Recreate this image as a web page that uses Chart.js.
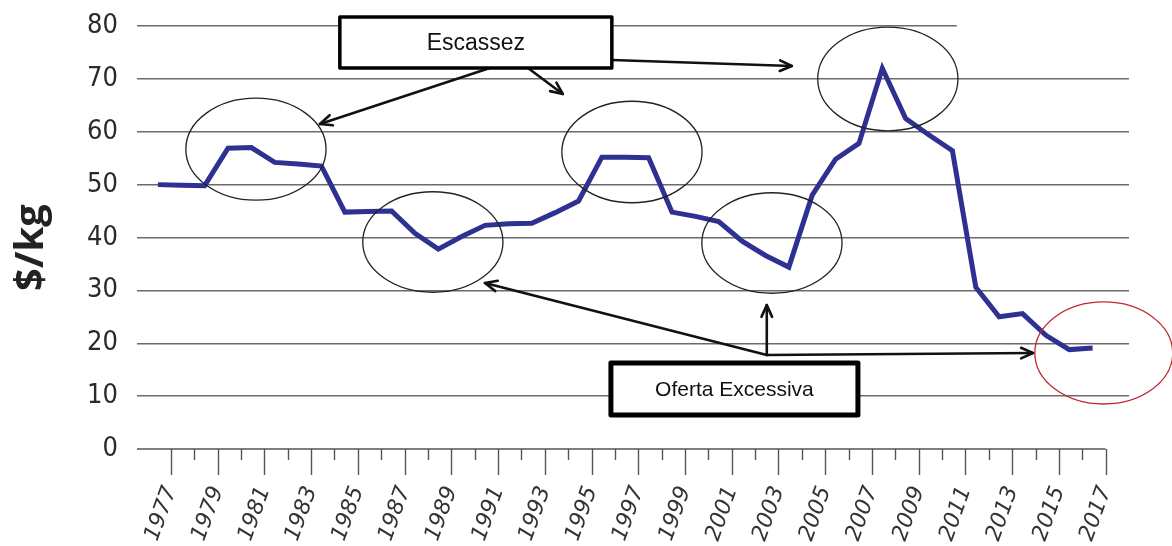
<!DOCTYPE html>
<html><head><meta charset="utf-8">
<script src="https://cdn.jsdelivr.net/npm/chart.js@4"></script>
<style>html,body{margin:0;padding:0;background:#fff;}</style>
</head><body>
<canvas id="c" width="1172" height="546"></canvas>
<script>
// ---- data ----
const years = [1977,1978,1979,1980,1981,1982,1983,1984,1985,1986,1987,1988,1989,1990,1991,1992,1993,1994,1995,1996,1997,1998,1999,2000,2001,2002,2003,2004,2005,2006,2007,2008,2009,2010,2011,2012,2013,2014,2015,2016,2017];
const prices = [50.0,49.9,49.8,56.9,57.0,54.2,53.9,53.5,44.8,44.9,45.0,40.8,37.8,40.2,42.3,42.6,42.7,44.7,46.9,55.2,55.2,55.1,44.8,44.0,43.0,39.3,36.6,34.4,48.0,54.8,57.8,72.0,62.5,59.4,56.4,30.6,25.0,25.6,21.5,18.8,19.1];
const tickYears = [1977,1978,1979,1980,1981,1982,1983,1984,1985,1986,1987,1988,1989,1990,1991,1992,1993,1994,1995,1996,1997,1998,1999,2000,2001,2002,2003,2004,2005,2006,2007,2008,2009,2010,2011,2012,2013,2014,2015,2016,2017];
const labelYears = [1977,1979,1981,1983,1985,1987,1989,1991,1993,1995,1997,1999,2001,2003,2005,2007,2009,2011,2013,2015,2017];
const yTicks = [0,10,20,30,40,50,60,70,80];
const yTitle = '$/kg';
// annotations in data units (x: year on the labelled axis, y: $/kg)
const ellipses = [
  {x:1980.64, y:56.7, rx:3.0, ry:9.65, color:'#222'},
  {x:1988.21, y:39.15, rx:3.0, ry:9.5, color:'#222'},
  {x:1996.73, y:56.17, rx:3.0, ry:9.6, color:'#222'},
  {x:2002.72, y:38.96, rx:3.0, ry:9.5, color:'#222'},
  {x:2007.68, y:69.98, rx:3.0, ry:9.8, color:'#222'},
  {x:2016.92, y:18.16, rx:2.95, ry:9.65, color:'#c0282f'}
];
const boxes = [
  {x0:1984.23, x1:1995.87, y0:81.7, y1:72.06, text:'Escassez', size:23, lw:3.5},
  {x0:1995.83, x1:2006.40, y0:16.26, y1:6.43, text:'Oferta Excessiva', size:21, lw:5}
];
const arrows = [
  {x0:1990.65, y0:72.06, x1:1983.38, y1:61.47},
  {x0:1992.28, y0:72.06, x1:1993.77, y1:67.14},
  {x0:1995.87, y0:73.57, x1:2003.57, y1:72.43},
  {x0:2002.50, y0:17.78, x1:1990.44, y1:31.39},
  {x0:2002.50, y0:17.78, x1:2002.50, y1:27.23},
  {x0:2002.50, y0:17.78, x1:2013.89, y1:18.16}
];
const topGridCutYear = 2010.63;
const titlePos = {year:1971.05, value:38.1};

const annot = {
  id:'annot',
  beforeDatasetsDraw(chart){
    const {ctx, scales:{x,y}, chartArea:ca} = chart;
    ctx.save();
    ctx.fillStyle = '#fff';
    const py = y.getPixelForValue(80);
    const cx = x.getPixelForValue(topGridCutYear);
    ctx.fillRect(cx, py-3, ca.right - cx + 4, 6);
    ctx.strokeStyle = '#555';
    ctx.lineWidth = 1.4;
    const y0 = y.getPixelForValue(0);
    ctx.beginPath();
    ctx.moveTo(ca.left, y0);
    ctx.lineTo(x.getPixelForValue(tickYears[tickYears.length-1]), y0);
    ctx.stroke();
    tickYears.forEach(yr=>{
      const px = Math.round(x.getPixelForValue(yr))+0.5;
      const len = labelYears.includes(yr) ? 26 : 11;
      ctx.beginPath(); ctx.moveTo(px, y0); ctx.lineTo(px, y0+len); ctx.stroke();
    });
    ctx.translate(x.getPixelForValue(titlePos.year), y.getPixelForValue(titlePos.value));
    ctx.rotate(-Math.PI/2);
    ctx.fillStyle = '#222';
    ctx.font = 'bold 40px "Open Sans", sans-serif';
    ctx.textAlign = 'center'; ctx.textBaseline = 'middle';
    ctx.fillText(yTitle, 0, 0);
    ctx.restore();
  },
  afterDatasetsDraw(chart){
    const {ctx, scales:{x,y}} = chart;
    ctx.save();
    ellipses.forEach(e=>{
      const cx = x.getPixelForValue(e.x), cy = y.getPixelForValue(e.y);
      const rx = x.getPixelForValue(e.x+e.rx)-cx, ry = cy - y.getPixelForValue(e.y+e.ry);
      ctx.beginPath(); ctx.ellipse(cx,cy,rx,ry,0,0,Math.PI*2);
      ctx.strokeStyle = e.color; ctx.lineWidth = 1.3; ctx.stroke();
    });
    ctx.strokeStyle = '#111'; ctx.lineWidth = 2.6; ctx.lineCap='round'; ctx.lineJoin='round';
    arrows.forEach(a=>{
      const X0=x.getPixelForValue(a.x0), Y0=y.getPixelForValue(a.y0);
      const X1=x.getPixelForValue(a.x1), Y1=y.getPixelForValue(a.y1);
      ctx.beginPath(); ctx.moveTo(X0,Y0); ctx.lineTo(X1,Y1); ctx.stroke();
      const ang = Math.atan2(Y1-Y0, X1-X0), L=13, w=0.42;
      ctx.beginPath();
      ctx.moveTo(X1-L*Math.cos(ang-w), Y1-L*Math.sin(ang-w));
      ctx.lineTo(X1,Y1);
      ctx.lineTo(X1-L*Math.cos(ang+w), Y1-L*Math.sin(ang+w));
      ctx.stroke();
    });
    boxes.forEach(b=>{
      const X0=x.getPixelForValue(b.x0), X1=x.getPixelForValue(b.x1);
      const Y0=y.getPixelForValue(b.y0), Y1=y.getPixelForValue(b.y1);
      ctx.fillStyle='#fff'; ctx.fillRect(X0,Y0,X1-X0,Y1-Y0);
      ctx.lineWidth=b.lw; ctx.strokeStyle='#000'; ctx.lineJoin='round';
      ctx.strokeRect(X0,Y0,X1-X0,Y1-Y0);
      ctx.fillStyle='#111'; ctx.font = b.size+'px "Liberation Sans", Arial, sans-serif';
      ctx.textAlign='center'; ctx.textBaseline='middle';
      ctx.fillText(b.text,(X0+X1)/2,(Y0+Y1)/2+1);
    });
    ctx.restore();
  }
};

new Chart(document.getElementById('c'), {
  type:'line',
  data:{datasets:[{
    data: years.map((yr,i)=>({x:yr, y:prices[i]})),
    xAxisID:'xd',
    borderColor:'rgb(46,49,146)', borderWidth:5, pointRadius:0, fill:false, tension:0
  }]},
  options:{
    responsive:false, animation:false,
    layout:{padding:{top:26,right:43,left:0,bottom:0}},
    plugins:{legend:{display:false}, tooltip:{enabled:false}},
    scales:{
      x:{type:'linear', position:'bottom', min:1975.55, max:2018.0,
        afterBuildTicks:(s)=>{ s.ticks = labelYears.map(v=>({value:v})); },
        afterFit:(s)=>{ s.height = 97; },
        grid:{display:false, drawTicks:false}, border:{display:false},
        ticks:{autoSkip:false, minRotation:70, maxRotation:70, padding:34, color:'#333',
          font:{family:'"DejaVu Sans"', style:'italic', size:22},
          callback:(v)=>String(v)}
      },
      xd:{type:'linear', position:'bottom', display:false, min:1976.106, max:2018.556},
      y:{min:0, max:80,
        afterBuildTicks:(s)=>{ s.ticks = yTicks.map(v=>({value:v})); },
        afterFit:(s)=>{ s.width = 137; },
        grid:{drawTicks:true, tickLength:17, tickColor:'rgba(0,0,0,0)', color:(c)=> c.tick && c.tick.value===0 ? 'rgba(0,0,0,0)' : '#6b6b6b', lineWidth:1.5},
        border:{display:false},
        ticks:{padding:2, color:'#2a2a2a', font:{family:'"Liberation Sans Narrow", "DejaVu Sans Condensed", sans-serif', size:27}}
      }
    }
  },
  plugins:[annot]
});
</script>
</body></html>
